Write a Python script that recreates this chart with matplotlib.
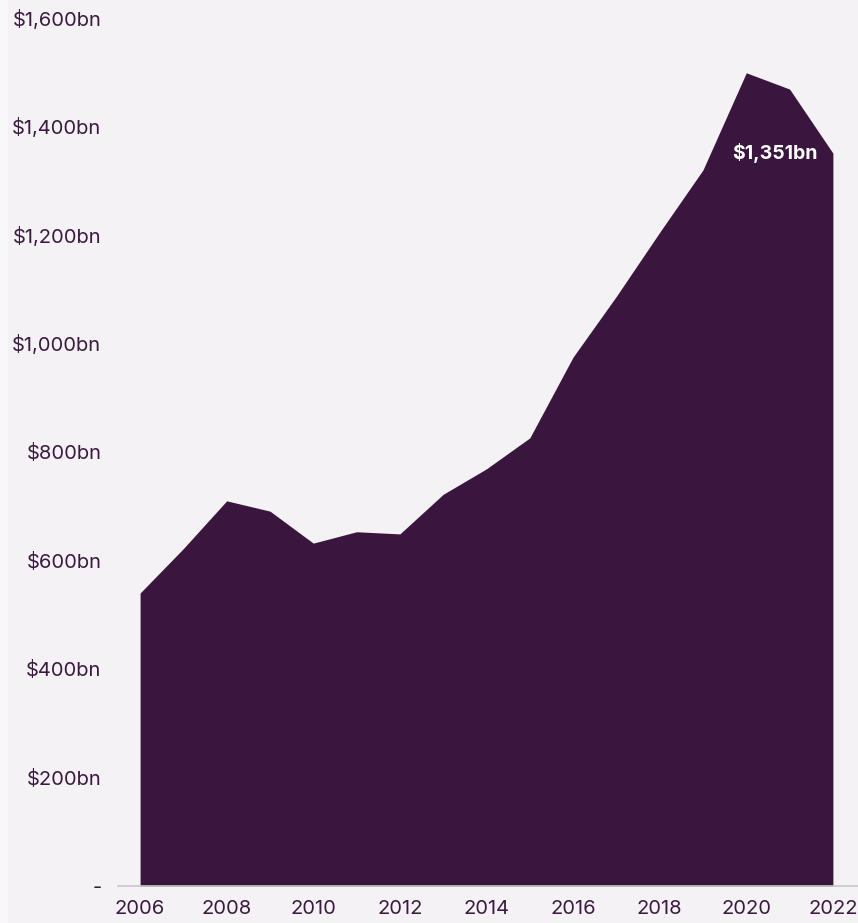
import matplotlib
matplotlib.use("Agg")
import matplotlib.pyplot as plt
from matplotlib.patches import Rectangle

years = list(range(2006, 2023))
values = [540, 622, 710, 691, 632, 653, 649, 722, 769, 826, 975, 1087, 1205, 1320, 1499, 1469, 1351]
yticks = [0, 200, 400, 600, 800, 1000, 1200, 1400, 1600]
ytick_labels = ["-", "$200bn", "$400bn", "$600bn", "$800bn", "$1,000bn", "$1,200bn", "$1,400bn", "$1,600bn"]
xticks = list(range(2006, 2023, 2))
last_label = "$1,351bn"

bg = "#f4f2f5"
fill = "#3a153e"
txt = "#3a1a3e"

plt.rcParams['font.family'] = ['Inter', 'DejaVu Sans']

fig = plt.figure(figsize=(8.58, 9.23), dpi=100, facecolor=bg)
fig.patches.append(Rectangle((0, 0), 7/858, 1, transform=fig.transFigure, color="#f8f7f9", zorder=0))
ax = fig.add_axes([118/858, 37/923, 740/858, 868/923])
ax.set_facecolor(bg)
ax.fill_between(years, values, 0, color=fill, linewidth=0)
ax.set_xlim(2005.49, 2022.58)
ax.set_ylim(0, 1600)
for s in ["top", "right", "left"]:
    ax.spines[s].set_visible(False)
ax.spines["bottom"].set_color("#c9c5c6")
ax.spines["bottom"].set_linewidth(1.2)
ax.set_yticks(yticks)
ax.set_yticklabels(ytick_labels)
ax.set_xticks(xticks)
ax.tick_params(axis="y", length=0, pad=12, labelsize=14.5, labelcolor=txt)
ax.tick_params(axis="x", length=0, pad=10, labelsize=14.5, labelcolor=txt)
ax.set_axisbelow(True)
for lab in ax.get_xticklabels():
    lab.set_clip_on(False)

ax.annotate(last_label, xy=(years[-1], values[-1]), xytext=(-11, 0), textcoords="offset points",
            ha="right", va="center", color="white", fontsize=14, fontweight="bold")

fig.savefig("out.png", dpi=100, facecolor=bg)
